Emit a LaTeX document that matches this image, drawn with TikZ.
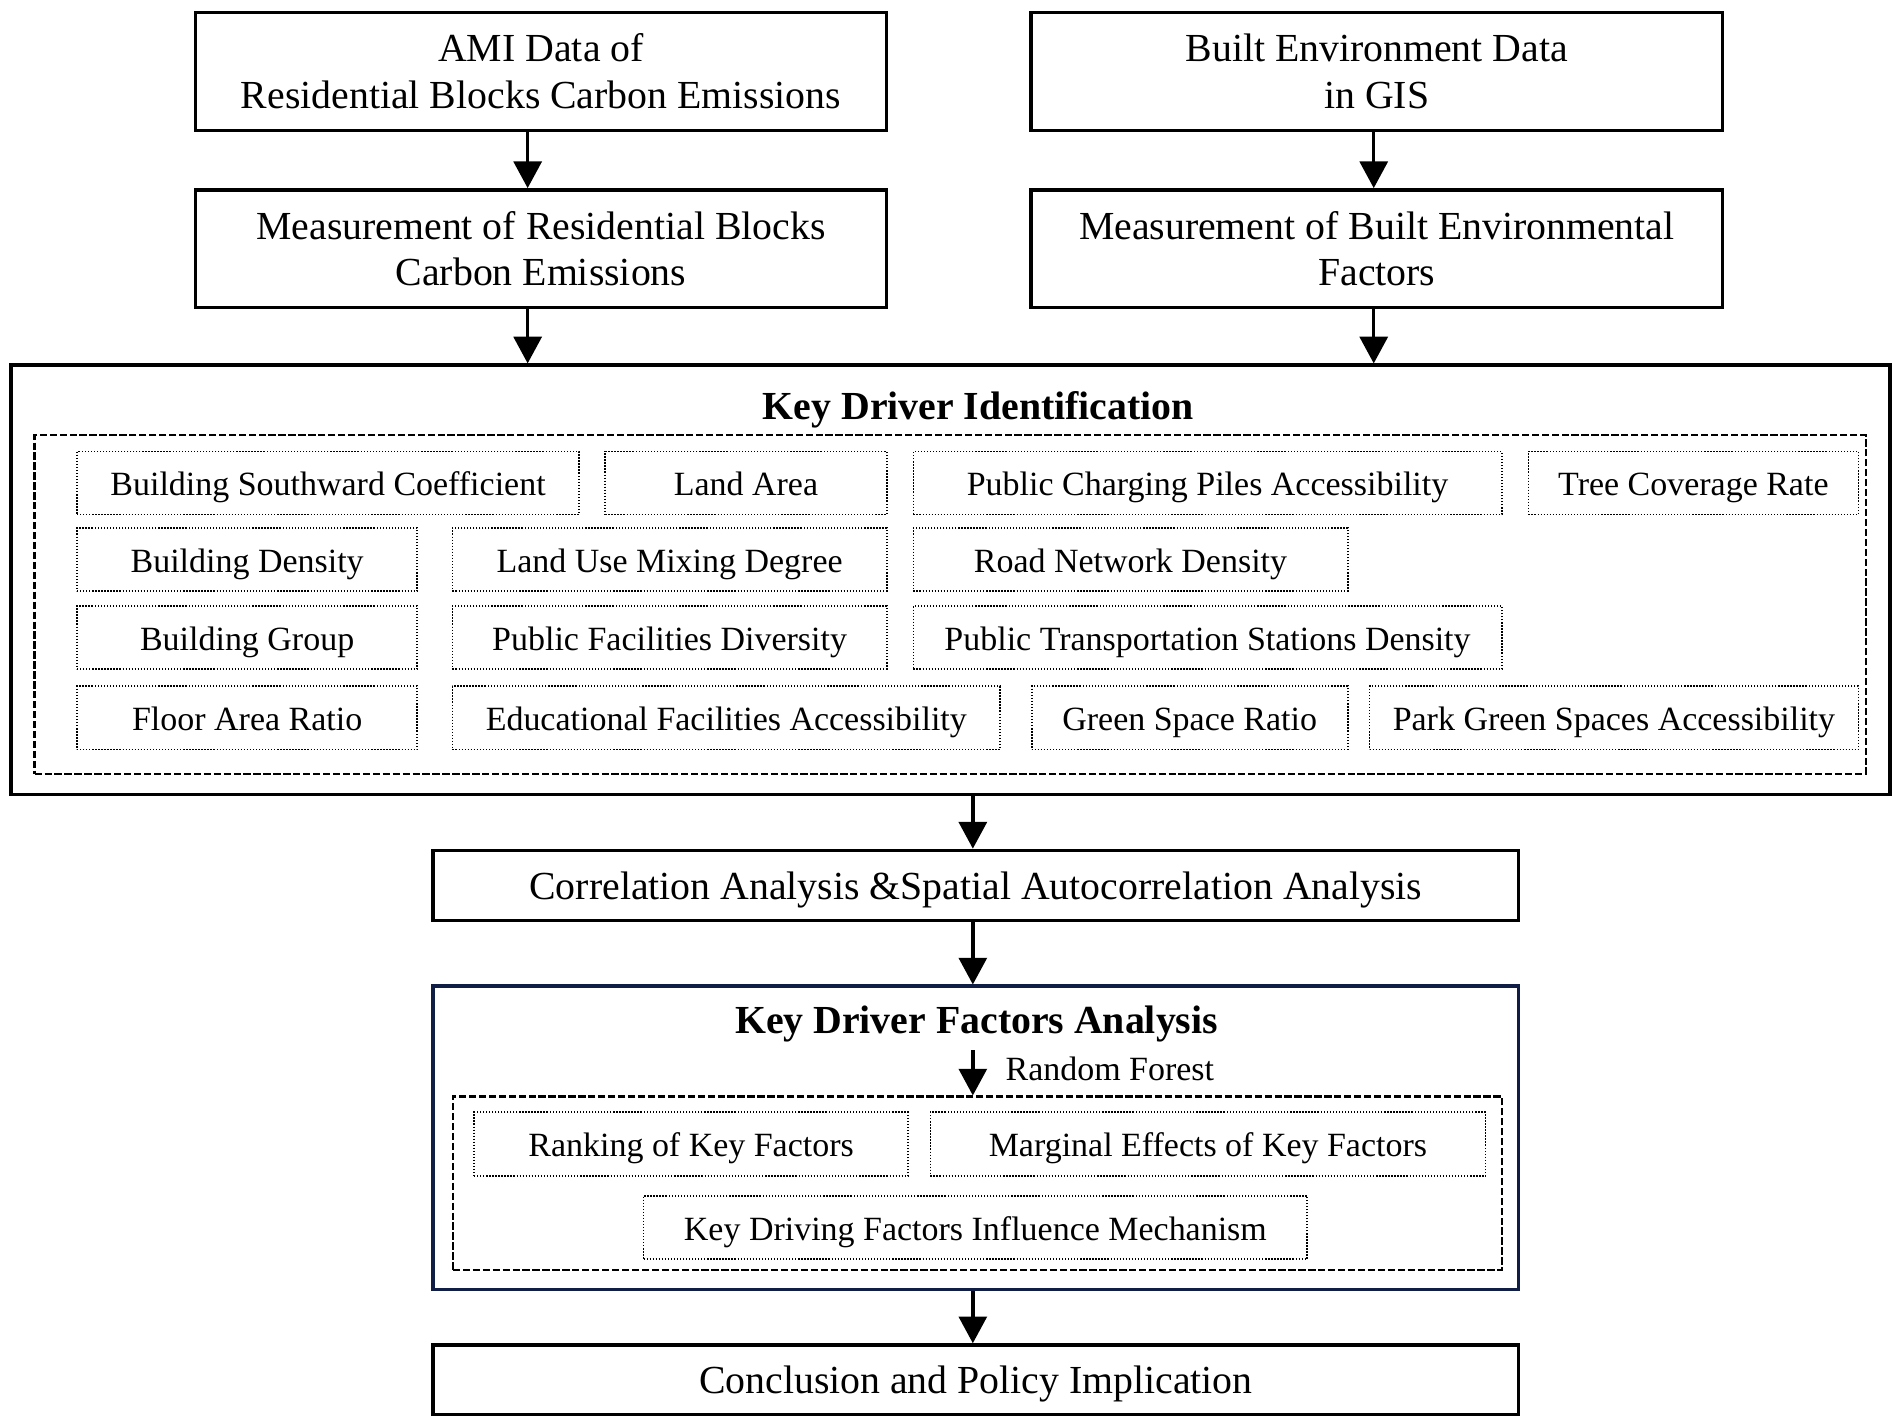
\documentclass[tikz,border=0pt]{standalone}
\usepackage{fontspec}
\setmainfont{Liberation Serif}
\usetikzlibrary{arrows.meta}
\definecolor{navy}{RGB}{16,30,70}
\tikzset{
  mainbox/.style={draw=black, line width=1.4pt, align=center, inner sep=0pt, font=\fontsize{16.4}{19.3}\selectfont},
  onel/.style={text height=12.4pt, text depth=1pt},
  dashbox/.style={draw=black, line width=0.9pt, dash pattern=on 3pt off 1.1pt, inner sep=0pt},
  factor/.style={draw=black, line width=0.7pt, dash pattern=on 0.55pt off 0.7pt, inner sep=0pt, minimum height=26pt, text height=11.2pt, text depth=0.8pt, font=\fontsize{14}{16.8}\selectfont},
  arr/.style={line width=1.4pt, -{Triangle[width=11.5pt,length=11pt]}},
  titletext/.style={font=\fontsize{16.4}{19.3}\selectfont\bfseries, inner sep=0pt},
  lbl/.style={font=\fontsize{14}{16.8}\selectfont, inner sep=0pt}
}
\begin{document}
\begin{tikzpicture}[x=0.5pt,y=-0.5pt]
\useasboundingbox[fill=white] (0,0) rectangle (1568,1177.2);
% top boxes
\node[mainbox, minimum width=285pt, minimum height=48.5pt] (ami) at (446,59) {AMI Data of\\Residential Blocks Carbon Emissions};
\node[mainbox, minimum width=285pt, minimum height=48.5pt] (bed) at (1135,59) {Built Environment Data\\in GIS};
\node[mainbox, minimum width=285pt, minimum height=48.5pt] (mrb) at (446,205) {Measurement of Residential Blocks\\Carbon Emissions};
\node[mainbox, minimum width=285pt, minimum height=48.5pt] (mbe) at (1135,205) {Measurement of Built Environmental\\Factors};
% key driver identification
\node[mainbox, minimum width=774.5pt, minimum height=177pt] (kdi) at (783.5,478) {};
\node[titletext] (kdit) at (806.5,337.5) {Key Driver Identification};
\node[dashbox, minimum width=754.75pt, minimum height=139.7pt] (kdid) at (783.25,498.3) {};
% row 1
\node[factor, minimum width=206.95pt] (f1) at (270.45,398.2) {Building Southward Coefficient};
\node[factor, minimum width=116pt] (f2) at (615,398.2) {Land Area};
\node[factor, minimum width=242.5pt] (f3) at (995.5,398.2) {Public Charging Piles Accessibility};
\node[factor, minimum width=136pt] (f4) at (1396,398.2) {Tree Coverage Rate};
% row 2
\node[factor, minimum width=140.25pt] (f5) at (203.75,461.3) {Building Density};
\node[factor, minimum width=179pt] (f6) at (552,461.3) {Land Use Mixing Degree};
\node[factor, minimum width=179pt] (f7) at (932,461.3) {Road Network Density};
% row 3
\node[factor, minimum width=140.25pt] (f8) at (203.75,525.5) {Building Group};
\node[factor, minimum width=179pt] (f9) at (552,525.5) {Public Facilities Diversity};
\node[factor, minimum width=242.5pt] (f10) at (995.5,525.5) {Public Transportation Stations Density};
% row 4
\node[factor, minimum width=140.25pt] (f11) at (203.75,591.8) {Floor Area Ratio};
\node[factor, minimum width=225.75pt] (f12) at (598.75,591.8) {Educational Facilities Accessibility};
\node[factor, minimum width=130.25pt] (f13) at (980.75,591.8) {Green Space Ratio};
\node[factor, minimum width=201.5pt] (f14) at (1330.5,591.8) {Park Green Spaces Accessibility};
% correlation
\node[mainbox, onel, minimum width=447.5pt, minimum height=29pt] (corr) at (804.5,730) {Correlation Analysis \&Spatial Autocorrelation Analysis};
% key driver factors analysis
\node[mainbox, draw=navy, minimum width=447.5pt, minimum height=125pt] (kdfa) at (804.5,938) {};
\node[titletext] (kdfat) at (805,844.5) {Key Driver Factors Analysis};
\node[dashbox, minimum width=432.35pt, minimum height=71.5pt] (kdfad) at (805.65,975.5) {};
\node[lbl, anchor=west] (rf) at (828.6,881) {Random Forest};
\node[factor, minimum width=178.95pt, minimum height=26.25pt] (g1) at (569.75,943.25) {Ranking of Key Factors};
\node[factor, minimum width=228.8pt, minimum height=26.25pt] (g2) at (995.8,943.25) {Marginal Effects of Key Factors};
\node[factor, minimum width=273.6pt, minimum height=26.15pt] (g3) at (804.1,1011.85) {Key Driving Factors Influence Mechanism};
% conclusion
\node[mainbox, onel, minimum width=447.5pt, minimum height=28.75pt] (conc) at (804.5,1137.5) {Conclusion and Policy Implication};
% arrows
\draw[arr] ([xshift=-5.5pt]ami.south) -- ([xshift=-5.5pt]mrb.north);
\draw[arr] ([xshift=-1.25pt]bed.south) -- ([xshift=-1.25pt]mbe.north);
\draw[arr] ([xshift=-5.5pt]mrb.south) -- ([xshift=-5.5pt]mrb.south |- kdi.north);
\draw[arr] ([xshift=-1.25pt]mbe.south) -- ([xshift=-1.25pt]mbe.south |- kdi.north);
\draw[arr] ([xshift=-1.25pt]corr.north |- kdi.south) -- ([xshift=-1.25pt]corr.north);
\draw[arr] ([xshift=-1.25pt]corr.south) -- ([xshift=-1.25pt]kdfa.north);
\draw[arr] ([xshift=-1.5pt,yshift=-3pt]kdfat.south) -- ([xshift=-1.5pt]kdfat.south |- kdfad.north);
\draw[arr] ([xshift=-1.25pt]kdfa.south) -- ([xshift=-1.25pt]conc.north);
\end{tikzpicture}
\end{document}
